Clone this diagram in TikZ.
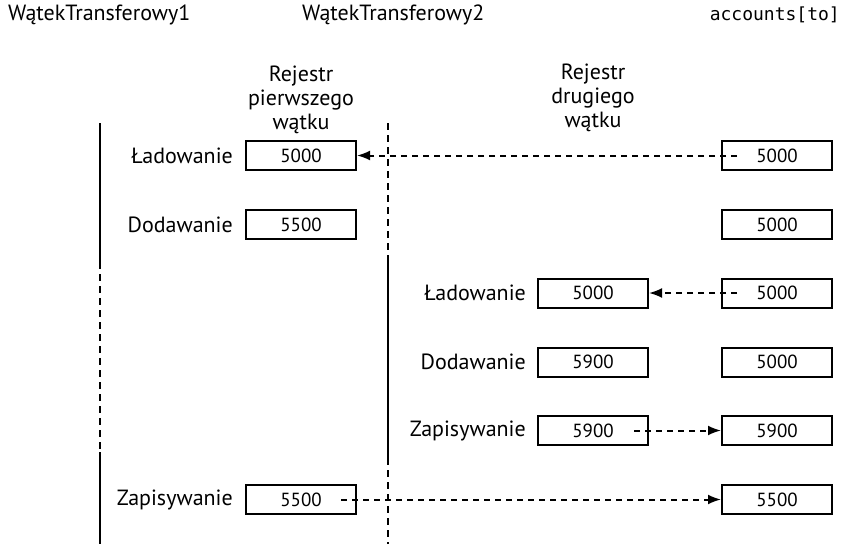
\documentclass[tikz,border=0pt]{standalone}
\usepackage{fontspec}
\setmainfont{PT Sans}
\setmonofont{DejaVu Sans Mono}
\usetikzlibrary{arrows.meta}
\tikzset{
  reg/.style={draw, line width=2pt, minimum width=110pt, minimum height=29pt,
    inner sep=0pt, font=\fontsize{19}{20}\selectfont},
  op/.style={anchor=east, inner sep=0pt},
  flow/.style={dash pattern=on 6pt off 5pt, line width=2pt,
    -{Latex[length=13pt,width=10pt]}},
  life/.style={line width=2.4pt},
  lifedash/.style={line width=2.4pt, dash pattern=on 7pt off 5pt},
}
\begin{document}
\begin{tikzpicture}[x=1pt,y=-1pt,font=\fontsize{22}{24}\selectfont]
  \useasboundingbox (0,0) rectangle (850,544);
  \draw
    (8,15) node[anchor=west,inner sep=0pt] (t1){WątekTransferowy1}
    (302,15) node[anchor=west,inner sep=0pt] (t2){WątekTransferowy2}
    (840,15) node[anchor=east,inner sep=0pt] (acc){\fontsize{18}{20}\selectfont\ttfamily accounts[to]}
    (301,100) node[align=center] (h1){Rejestr\\pierwszego\\wątku}
    (593,98) node[align=center] (h2){Rejestr\\drugiego\\wątku};
  % watek 1
  \draw
    (301,155.5) node[reg] (p1){5000}
    (301,224.5) node[reg] (p2){5500}
    (301,499.5) node[reg] (p6){5500}
    (233,155.5) node[op] {Ładowanie}
    (233,224.5) node[op] {Dodawanie}
    (233,499.5) node[op] {Zapisywanie};
  % watek 2
  \draw
    (593,293) node[reg] (d3){5000}
    (593,362) node[reg] (d4){5900}
    (593,430.5) node[reg] (d5){5900}
    (526,293) node[op] {Ładowanie}
    (526,362) node[op] {Dodawanie}
    (526,430.5) node[op] {Zapisywanie};
  % accounts[to]
  \draw
    (777,155.5) node[reg] (a1){5000}
    (777,224.5) node[reg] (a2){5000}
    (777,293) node[reg] (a3){5000}
    (777,362) node[reg] (a4){5000}
    (777,430.5) node[reg] (a5){5900}
    (777,499.5) node[reg] (a6){5500};
  % osie czasu
  \coordinate (w1a) at (100,123);
  \coordinate (w1b) at (100,262);
  \coordinate (w1c) at (100,452);
  \coordinate (w1d) at (100,544);
  \coordinate (w2a) at (388,123);
  \coordinate (w2b) at (388,262);
  \coordinate (w2c) at (388,458);
  \coordinate (w2d) at (388,544);
  \draw[life] (w1a) -- (w1b);
  \draw[lifedash] (w1b) -- (w1c);
  \draw[life] (w1c) -- (w1d);
  \draw[lifedash] (w2a) -- (w2b);
  \draw[life] (w2b) -- (w2c);
  \draw[lifedash] (w2c) -- (w2d);
  \begin{scope}[flow]
    \draw ([xshift=16pt]a1.west) to (p1.east);
    \draw ([xshift=16pt]a3.west) to (d3.east);
    \draw ([xshift=-15pt]d5.east) to (a5.west);
    \draw ([xshift=-16pt]p6.east) to (a6.west);
  \end{scope}
\end{tikzpicture}
\end{document}
